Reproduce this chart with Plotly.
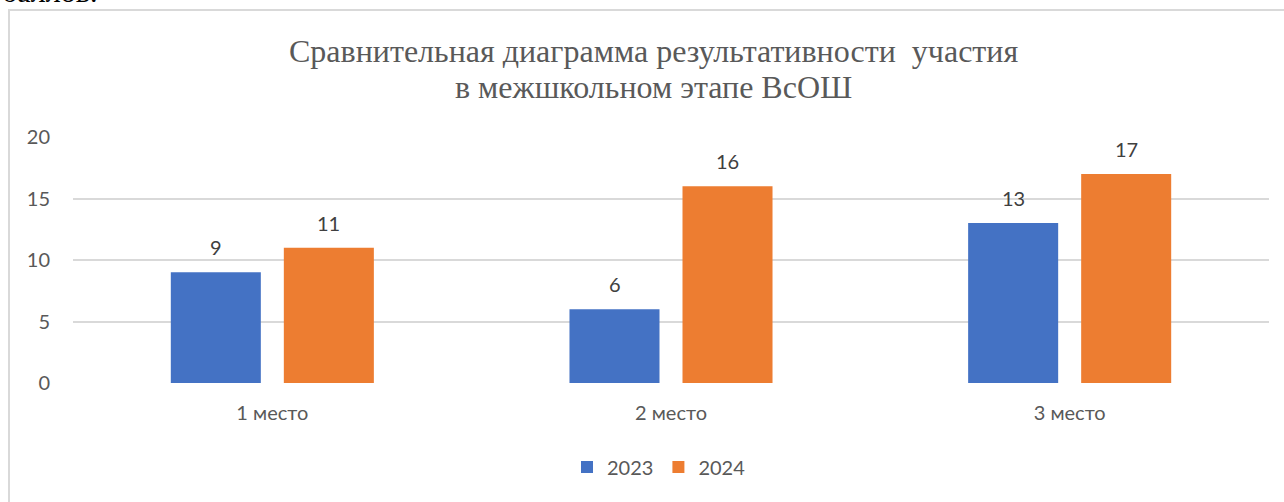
import plotly.graph_objects as go

categories = ["1 место", "2 место", "3 место"]
series_names = ["2023", "2024"]
values_2023 = [9, 6, 13]
values_2024 = [11, 16, 17]
colors = ["#4472C4", "#ED7D31"]
title_lines = ["Сравнительная диаграмма результативности  участия", "в межшкольном этапе ВсОШ"]

W, H = 1284, 502
L, R, T, B = 73, 15, 137, 119
pw, ph = W - L - R, H - T - B
SANS = "Lato, Open Sans, sans-serif"
SERIF = "Liberation Serif, Times New Roman, serif"

def px_x(x):
    return (x - L) / pw

def px_y(y):
    # y measured in pixels from the top of the picture
    return (H - B - y) / ph

fig = go.Figure()
offsets = [-56.5, 56.5]
for name, vals, col, off in zip(series_names, [values_2023, values_2024], colors, offsets):
    fig.add_trace(go.Bar(
        x=categories, y=vals, name=name, marker=dict(color=col, line=dict(width=0)),
    ))
    for c, v in zip(categories, vals):
        fig.add_annotation(x=c, y=v, xref="x", yref="y", text=str(v), showarrow=False,
                           xshift=off, yshift=25, yanchor="middle",
                           font=dict(family=SANS, size=20, color="#404040"))

fig.update_layout(
    width=W, height=H,
    margin=dict(l=L, r=R, t=T, b=B, autoexpand=False),
    paper_bgcolor="white", plot_bgcolor="white",
    barmode="group", bargap=0.433, bargroupgap=0.2035,
    showlegend=True,
    legend=dict(orientation="h", x=px_x(659), xanchor="center", y=px_y(467), yanchor="middle",
                font=dict(family=SANS, size=20, color="#595959"),
                itemwidth=30, traceorder="normal"),
    xaxis=dict(showgrid=False, showline=False, ticks="", ticklabelstandoff=16,
               tickfont=dict(family=SANS, size=20, color="#595959")),
    yaxis=dict(range=[0, 20], dtick=5, showgrid=True, gridcolor="#D9D9D9", gridwidth=1.5,
               zeroline=False, showline=False, ticks="", ticklabelstandoff=22,
               tickfont=dict(family=SANS, size=20, color="#595959")),
    font=dict(family=SANS),
)

fig.add_shape(type="rect", xref="paper", yref="paper",
              x0=px_x(9), x1=px_x(W + 20), y0=px_y(H + 20), y1=px_y(10),
              line=dict(color="#D9D9D9", width=2), fillcolor="rgba(0,0,0,0)", layer="below")

fig.add_annotation(xref="paper", yref="paper", x=px_x(653), y=px_y(51), xanchor="center", yanchor="middle",
                   text=title_lines[0], showarrow=False,
                   font=dict(family=SERIF, size=32, color="#595959"))
fig.add_annotation(xref="paper", yref="paper", x=px_x(653), y=px_y(87), xanchor="center", yanchor="middle",
                   text=title_lines[1], showarrow=False,
                   font=dict(family=SERIF, size=32, color="#595959"))
fig.add_annotation(xref="paper", yref="paper", x=px_x(0), y=px_y(-9), xanchor="left", yanchor="middle",
                   text="баллов.", showarrow=False,
                   font=dict(family=SERIF, size=30, color="#000000"))

fig.write_html("out.html", config={"displayModeBar": False},
               post_script="document.body.style.margin='0';document.body.style.overflow='hidden';")
